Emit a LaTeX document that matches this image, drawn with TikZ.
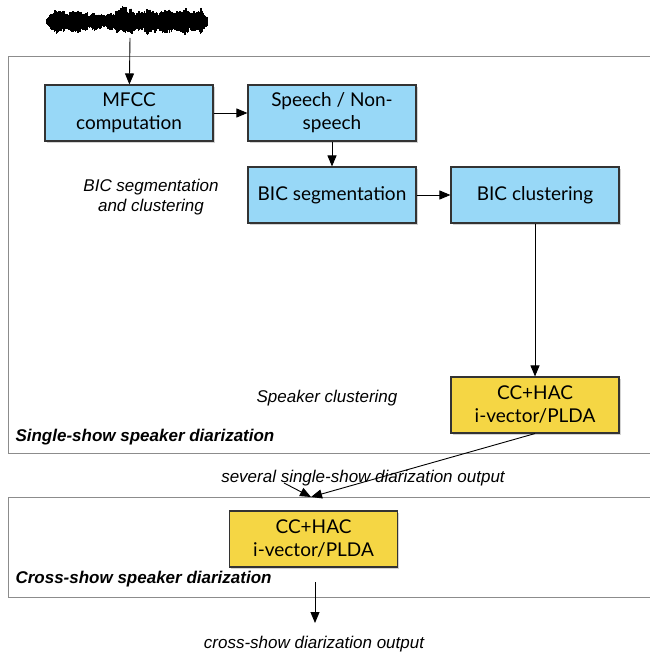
\documentclass[tikz,border=0pt]{standalone}
\usepackage{fontspec}
\setmainfont{Lato}
\newfontfamily\lblfont{Liberation Sans}
\usetikzlibrary{shadows,arrows.meta}
\definecolor{boxblue}{RGB}{152,216,247}
\definecolor{boxyellow}{RGB}{245,214,68}
\definecolor{frame}{RGB}{140,140,140}
\begin{document}
\begin{tikzpicture}[x=1pt,y=-1pt,
  proc/.style={draw=black!80, line width=1.1pt, minimum width=168pt, minimum height=56pt,
    align=center, inner sep=0pt, font=\fontsize{19}{23}\selectfont,
    drop shadow={shadow xshift=1.5pt, shadow yshift=-2pt, opacity=0.35}},
  bluebox/.style={proc, fill=boxblue},
  yellowbox/.style={proc, fill=boxyellow},
  arr/.style={-{Triangle[length=11pt,width=9pt]}, line width=0.9pt},
  lbl/.style={font=\lblfont\itshape\fontsize{17}{20}\selectfont, align=center},
  title/.style={font=\lblfont\bfseries\itshape\fontsize{17}{20}\selectfont, anchor=west},
  region/.style={draw=frame, line width=1pt}]
\useasboundingbox (0,0) rectangle (649,655);

% waveform
\pgfmathsetseed{5}
\foreach \i in {0,...,320} {
  \pgfmathsetmacro\xx{47+\i*0.5}
  \pgfmathsetmacro\wbase{(\xx<88)*12.5 + and(\xx>=88,\xx<116)*9.5 + (\xx>=116)*13.5}
  \pgfmathsetmacro\wmodu{0.82+0.12*sin(\xx*20)+0.08*sin(\xx*47)}
  \pgfmathsetmacro\env{\wbase*\wmodu*min(1,(\xx-45)/6)*min(1,(211-\xx)/10)}
  \pgfmathsetmacro\spike{and(\xx>=117,\xx<=126)*8}
  \pgfmathsetmacro\up{\env*(0.6+0.4*rnd)+\spike*rnd}
  \pgfmathsetmacro\dn{\env*(0.6+0.4*rnd)}
  \draw[line width=1.2pt, black] (\xx,{21.5-\up}) -- (\xx,{21.5+\dn});
}
\coordinate (wave) at (130,38);

% regions
\draw[region] (8,57) -- (651,57) -- (651,453) -- (8,453) -- cycle;
\draw[region] (8,497) -- (651,497) -- (651,597) -- (8,597) -- cycle;

% nodes
\node[bluebox] (mfcc) at (129,113) {MFCC\\computation};
\node[bluebox] (speech) at (332,113) {Speech / Non-\\speech};
\node[bluebox] (bicseg) at (332,195) {BIC segmentation};
\node[bluebox] (bicclust) at (535,195) {BIC clustering};
\node[yellowbox] (y1) at (535,405) {CC+HAC\\i-vector/PLDA};
\node[yellowbox] (y2) at (313.5,539) {CC+HAC\\i-vector/PLDA};

% labels
\node[lbl] (lbic) at (151,197) {BIC segmentation\\and clustering};
\node[lbl] (lspk) at (327,398) {Speaker clustering};
\node[title] (t1) at (12,437) {Single-show speaker diarization};
\node[title] (t2) at (12,579) {Cross-show speaker diarization};
\node[lbl] (lsev) at (363,478) {several single-show diarization output};
\node[lbl] (lout) at (314,644) {cross-show diarization output};

% connectors
\draw[arr] (wave) -- (mfcc);
\draw[arr] (mfcc) -- (speech);
\draw[arr] (speech) -- (bicseg);
\draw[arr] (bicseg) -- (bicclust);
\draw[arr] (bicclust) -- (y1);
\coordinate (join) at (311,497);
\coordinate (shortstart) at (284,483);
\draw[arr] (y1.south) -- (join);
\draw[arr] (shortstart) -- (join);
\coordinate (outstart) at (315,582);
\coordinate (outend) at (315,623);
\draw[arr] (outstart) -- (outend);
\end{tikzpicture}
\end{document}
